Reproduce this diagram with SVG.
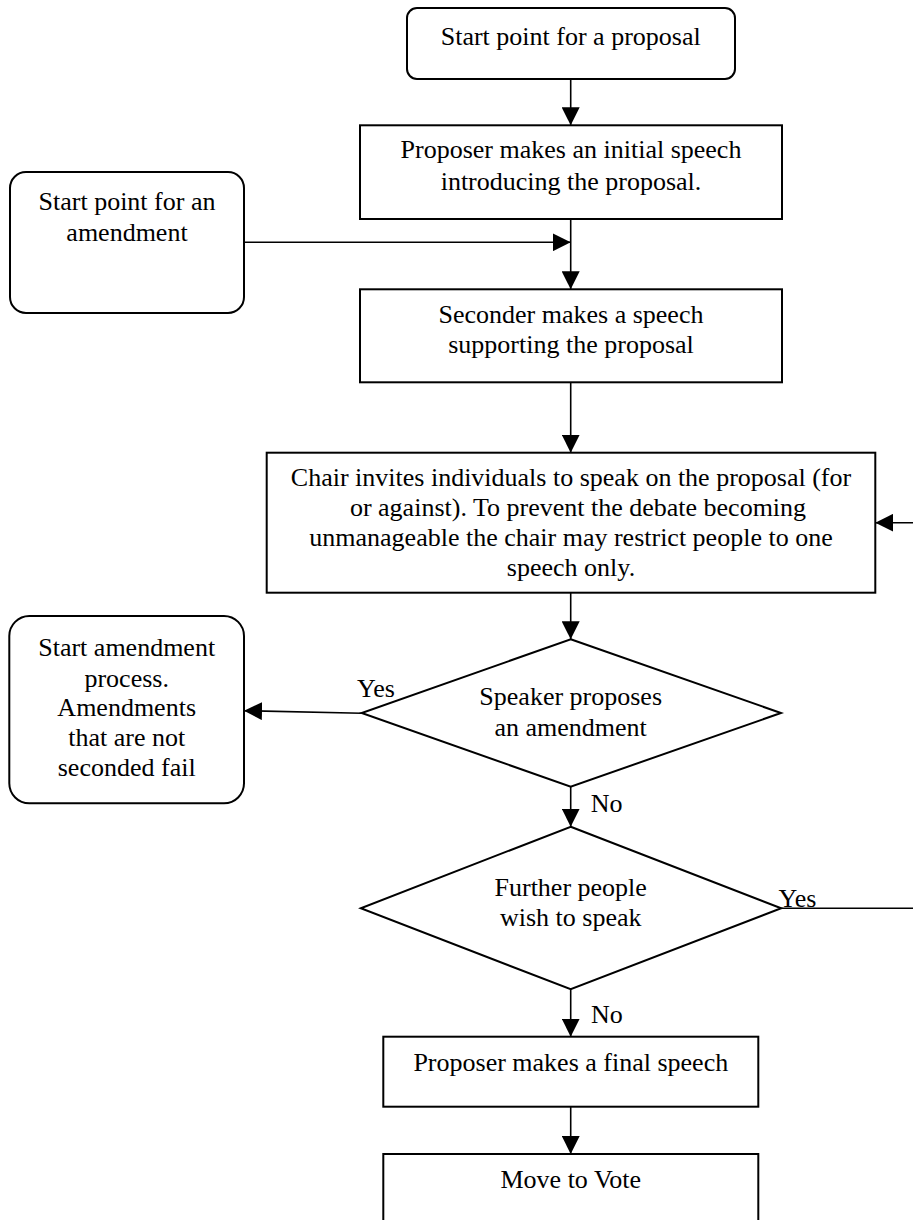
<svg xmlns="http://www.w3.org/2000/svg" width="913" height="1220" viewBox="0 0 913 1220">
<defs>
<marker id="arrow" markerUnits="userSpaceOnUse" markerWidth="18" markerHeight="18" refX="18" refY="9" orient="auto" viewBox="0 0 18 18">
<path d="M0,0 L18,9 L0,18 z" fill="#000"/>
</marker>
<style>
.box{fill:#fff;stroke:#000;stroke-width:2}
.conn{fill:none;stroke:#000;stroke-width:1.6}
.t{font-family:"Liberation Serif","Times New Roman",serif;font-size:26px;fill:#000;text-anchor:middle}
.lbl{font-family:"Liberation Serif","Times New Roman",serif;font-size:26px;fill:#000}
</style>
</defs>
<rect width="913" height="1220" fill="#fff"/>
<g id="connectors">
<line class="conn" x1="570.7" y1="79" x2="570.7" y2="125.3" marker-end="url(#arrow)"/>
<line class="conn" x1="570.7" y1="219" x2="570.7" y2="289.3" marker-end="url(#arrow)"/>
<line class="conn" x1="244" y1="242.3" x2="570.7" y2="242.3" marker-end="url(#arrow)"/>
<line class="conn" x1="570.7" y1="382.3" x2="570.7" y2="452.7" marker-end="url(#arrow)"/>
<line class="conn" x1="913" y1="522.7" x2="875.3" y2="522.7" marker-end="url(#arrow)"/>
<line class="conn" x1="570.7" y1="592.7" x2="570.7" y2="639.3" marker-end="url(#arrow)"/>
<line class="conn" x1="361.7" y1="713.3" x2="244" y2="710.7" marker-end="url(#arrow)"/>
<line class="conn" x1="570.7" y1="786.7" x2="570.7" y2="826.7" marker-end="url(#arrow)"/>
<line class="conn" x1="781.2" y1="908.3" x2="913" y2="908.3"/>
<line class="conn" x1="570.7" y1="989.3" x2="570.7" y2="1036.7" marker-end="url(#arrow)"/>
<line class="conn" x1="570.7" y1="1106.7" x2="570.7" y2="1154" marker-end="url(#arrow)"/>
<text class="lbl" x="357" y="696.7">Yes</text>
<text class="lbl" x="590.7" y="812.3">No</text>
<text class="lbl" x="778.6" y="907.3">Yes</text>
<text class="lbl" x="591" y="1023.3">No</text>
</g>
<g id="start_proposal">
<rect class="box" x="407" y="8" width="328" height="71" rx="10"/>
<text class="t" x="570.7" y="45">Start point for a proposal</text>
</g>
<g id="proposer_initial">
<rect class="box" x="360" y="125.3" width="422" height="93.7"/>
<text class="t" x="571" y="158">Proposer makes an initial speech</text>
<text class="t" x="571" y="190">introducing the proposal.</text>
</g>
<g id="start_amendment">
<rect class="box" x="10" y="172" width="234" height="141" rx="16"/>
<text class="t" x="127" y="210">Start point for an</text>
<text class="t" x="127" y="241">amendment</text>
</g>
<g id="seconder">
<rect class="box" x="360" y="289.3" width="422" height="93"/>
<text class="t" x="571" y="322.7">Seconder makes a speech</text>
<text class="t" x="571" y="353.3">supporting the proposal</text>
</g>
<g id="chair">
<rect class="box" x="266.7" y="452.7" width="608.6" height="140"/>
<text class="t" x="571" y="486">Chair invites individuals to speak on the proposal (for</text>
<text class="t" x="578" y="515.5">or against). To prevent the debate becoming</text>
<text class="t" x="571" y="545.5">unmanageable the chair may restrict people to one</text>
<text class="t" x="571" y="576">speech only.</text>
</g>
<g id="decision_amendment">
<polygon class="box" points="570.7,639.3 781,713 570.7,786.7 361.7,713"/>
<text class="t" x="570.7" y="705">Speaker proposes</text>
<text class="t" x="570.7" y="735.7">an amendment</text>
</g>
<g id="amendment_process">
<rect class="box" x="9.3" y="616" width="234.7" height="187.3" rx="20"/>
<text class="t" x="126.7" y="655.7">Start amendment</text>
<text class="t" x="126.7" y="686.7">process.</text>
<text class="t" x="126.7" y="716">Amendments</text>
<text class="t" x="126.7" y="746">that are not</text>
<text class="t" x="126.7" y="776">seconded fail</text>
</g>
<g id="decision_further">
<polygon class="box" points="570.7,826.7 781.2,908.3 570.7,989.3 360.8,908.3"/>
<text class="t" x="570.7" y="896">Further people</text>
<text class="t" x="570.7" y="926">wish to speak</text>
</g>
<g id="final_speech">
<rect class="box" x="383.3" y="1036.7" width="375" height="70"/>
<text class="t" x="570.8" y="1071">Proposer makes a final speech</text>
</g>
<g id="vote">
<rect class="box" x="383.3" y="1154" width="375" height="90"/>
<text class="t" x="570.8" y="1188.3">Move to Vote</text>
</g>
</svg>
